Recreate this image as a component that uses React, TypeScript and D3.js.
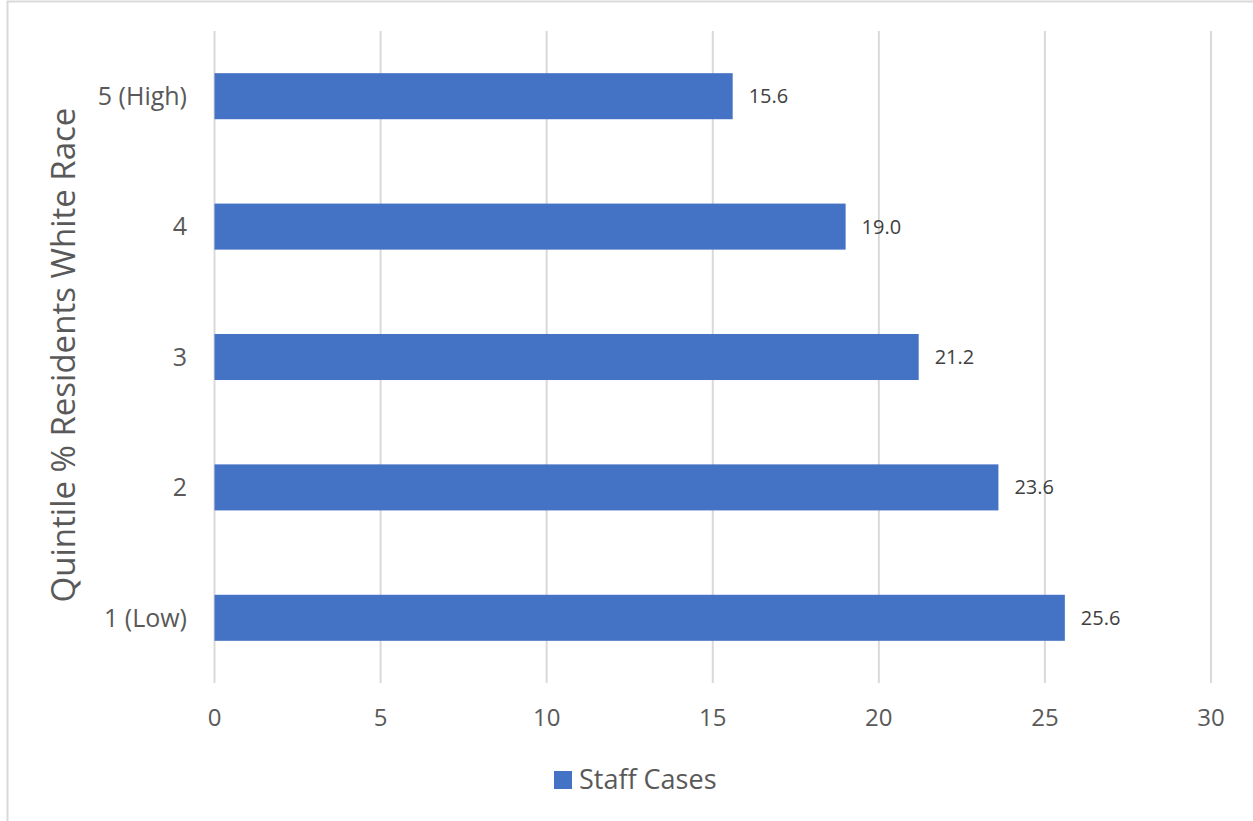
import React from "react";
import * as d3 from "d3";

const categories = ["5 (High)", "4", "3", "2", "1 (Low)"];
const values = [15.6, 19.0, 21.2, 23.6, 25.6];
const xTicks = [0, 5, 10, 15, 20, 25, 30];
const seriesName = "Staff Cases";
const axisTitle = "Quintile % Residents White Race";

const W = 1253;
const H = 821;
const plot = { left: 214.5, right: 1211, top: 31, bottom: 683 };
const FONT = "'Open Sans', 'Liberation Sans', sans-serif";
const TEXT = "#595959";
const BAR = "#4472C4";
const GRID = "#D9D9D9";

export default function App() {
  const x = d3.scaleLinear().domain([0, 30]).range([plot.left, plot.right]);
  const y = d3
    .scaleBand<string>()
    .domain(categories)
    .range([plot.top, plot.bottom])
    .paddingInner(0.647)
    .paddingOuter(0.3235);

  return (
    <svg
      width={W}
      height={H}
      style={{ position: "absolute", left: 0, top: 0, background: "#fff" }}
      fontFamily={FONT}
    >
      <rect x={7.5} y={1.5} width={1300} height={900} fill="#fff" stroke={GRID} strokeWidth={2} />
      {xTicks.map((t) => (
        <line key={t} x1={x(t)} x2={x(t)} y1={plot.top} y2={plot.bottom} stroke={GRID} strokeWidth={2} />
      ))}
      {categories.map((c, i) => (
        <rect key={c} x={x(0)} y={y(c)} width={x(values[i]) - x(0)} height={y.bandwidth()} fill={BAR} />
      ))}
      {categories.map((c, i) => (
        <text
          key={"v" + c}
          x={x(values[i]) + 16}
          y={(y(c) as number) + y.bandwidth() / 2}
          dy="0.35em"
          fontSize={20}
          fill="#404040"
        >
          {values[i].toFixed(1)}
        </text>
      ))}
      {categories.map((c) => (
        <text
          key={"c" + c}
          x={187}
          y={(y(c) as number) + y.bandwidth() / 2}
          dy="0.35em"
          textAnchor="end"
          fontSize={25}
          fill={TEXT}
        >
          {c}
        </text>
      ))}
      {xTicks.map((t) => (
        <text key={"t" + t} x={x(t)} y={718} dy="0.35em" textAnchor="middle" fontSize={24} fill={TEXT}>
          {t}
        </text>
      ))}
      <text
        transform={`translate(63, ${(110 + 600) / 2}) rotate(-90)`}
        textAnchor="middle"
        dy="0.35em"
        fontSize={33}
        fill={TEXT}
      >
        {axisTitle}
      </text>
      <rect x={554} y={771} width={18} height={18} fill={BAR} />
      <text x={579} y={780} dy="0.35em" fontSize={27} fill={TEXT}>
        {seriesName}
      </text>
    </svg>
  );
}
